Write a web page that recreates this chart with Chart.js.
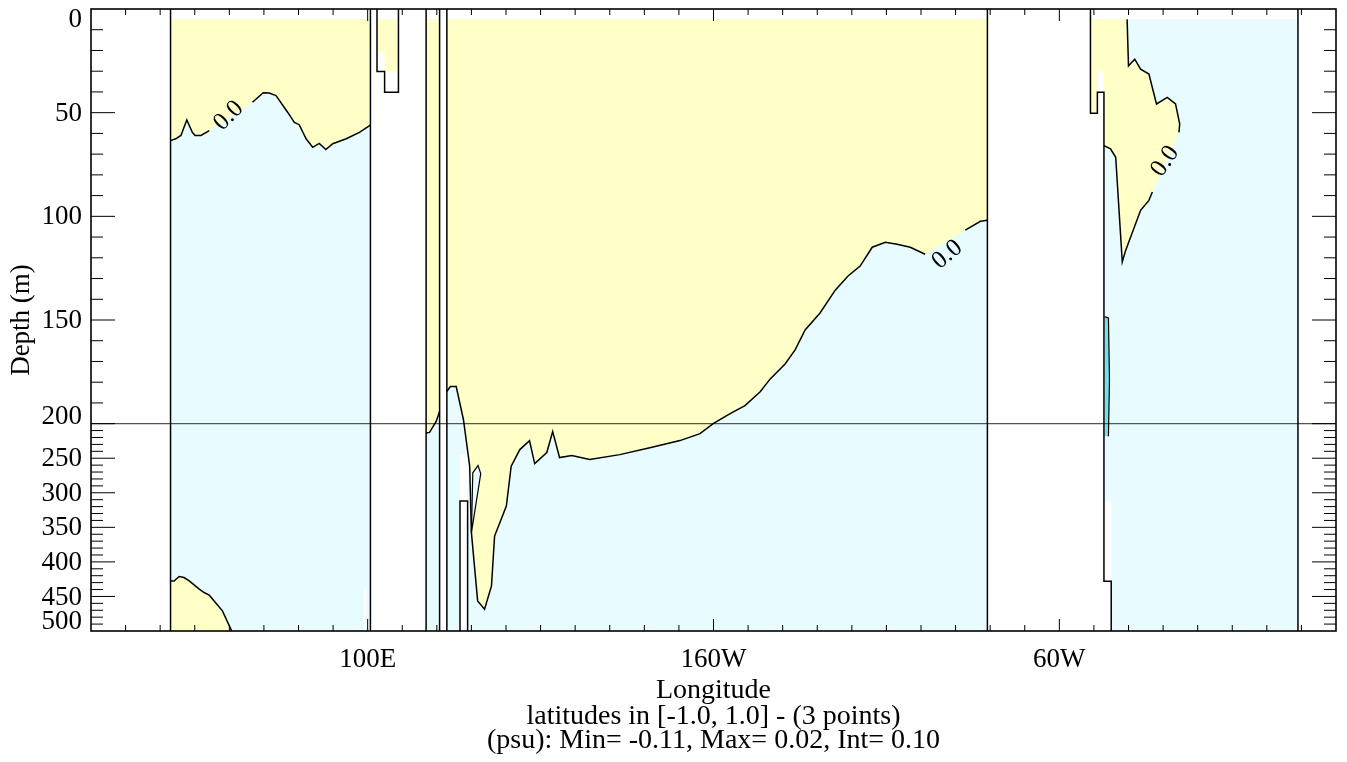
<!DOCTYPE html>
<html>
<head>
<meta charset="utf-8">
<script src="https://cdn.jsdelivr.net/npm/chart.js@4/dist/chart.umd.min.js"></script>
<style>
  html, body { margin: 0; padding: 0; background: #fff; }
  canvas { display: block; }
</style>
</head>
<body>
<canvas id="section" width="1347" height="762"></canvas>
<script>
// axis ticks
const lonTicks = [100, 200, 300];
const lonTickLabels = ["100E", "160W", "60W"];
const depthTicks = [0, 50, 100, 150, 200, 250, 300, 350, 400, 450, 500];

// land edges that run the whole depth
const coastLons = [43.0, 100.8, 116.9, 120.8, 122.9, 279.2, 369.0];
// ocean columns (cyan background), west / east edge
const oceanWest = [43.0, 116.9, 122.9, 312.9];
const oceanEast = [100.8, 120.8, 279.2, 369.0];
const topDepth = 5;

// 0.0 isoline, Indian Ocean near surface
const indianLon = [43.0, 44.5, 46.0, 47.7, 49.3, 50.1, 51.8, 54.2, 66.7, 69.8, 71.5, 73.5, 76.9, 78.8, 80.2, 82.2, 84.1, 86.0, 87.9, 89.9, 93.8, 97.6, 100.8];
const indianDepth = [63.5, 62.6, 61.0, 53.5, 59.5, 61.0, 61.0, 58.7, 45.0, 40.4, 40.5, 41.8, 49.9, 54.7, 55.8, 62.6, 66.7, 64.8, 67.8, 65.0, 62.6, 59.5, 56.0];
// 0.0 isoline, deep Indian Ocean patch
const indianDeepLon = [43.0, 44.0, 45.5, 46.9, 48.4, 51.3, 52.7, 54.2, 58.0, 60.7];
const indianDeepDepth = [427.6, 427.6, 421.2, 422.7, 427.6, 439.5, 444.3, 448.2, 470.9, 500];
// 0.0 isoline, narrow strait column
const straitLon = [116.9, 117.9, 119.8, 120.8];
const straitDepth = [213.4, 212.6, 198.9, 194.1];
// 0.0 isoline, Pacific
const pacificLon = [122.9, 123.9, 125.6, 127.7, 129.5, 130.0, 131.8, 133.8, 135.8, 136.7, 140.1, 141.5, 144.0, 146.8, 148.3, 151.8, 153.5, 155.5, 159.0, 164.2, 172.9, 181.6, 190.3, 196.1, 199.9, 204.8, 209.1, 213.5, 216.4, 220.7, 223.6, 226.5, 230.8, 235.2, 238.9, 242.4, 245.9, 249.7, 253.1, 256.9, 261.2, 272.8, 277.2, 279.2];
const pacificDepth = [184.5, 182.1, 182.1, 198.1, 261.6, 357.7, 456.4, 468.4, 434.8, 362.6, 319.3, 261.6, 237.5, 224.5, 257.7, 241.8, 211.5, 249.1, 246.2, 252.0, 244.8, 234.7, 224.5, 214.4, 200.0, 195.2, 191.3, 184.6, 178.4, 171.2, 164.4, 154.8, 146.6, 135.6, 128.8, 124.0, 114.9, 112.5, 113.5, 114.9, 118.3, 106.7, 102.4, 101.9];
// negative pocket inside the Pacific tongue
const pocketLon = [130.0, 130.4, 131.9, 132.7];
const pocketDepth = [357.7, 271.1, 260.6, 272.2];
// 0.0 isoline, Atlantic
const atlanticLon = [312.9, 314.8, 316.3, 318.2, 319.2, 323.5, 325.9, 326.9, 334.6, 334.8, 333.6, 331.2, 328.1, 325.9, 323.5, 321.8, 320.0, 319.6];
const atlanticDepth = [65.9, 67.5, 71.5, 122.0, 116.3, 97.1, 92.3, 88.3, 59.5, 55.4, 45.8, 42.6, 45.8, 31.4, 29.0, 24.2, 27.4, 5];
// thin band below -0.1 along the Atlantic coast
const lowBandLon = [313.1, 314.2, 314.5, 314.2, 313.1];
const lowBandDepth = [148.4, 149.0, 178.8, 218.3, 218.3];

// stepped land edges
const islandLon = [102.7, 102.7, 104.9, 104.9, 108.9, 108.9];
const islandDepth = [0, 30.1, 30.1, 40.2, 40.2, 0];
const ridgeLon = [126.7, 126.7, 128.9, 128.9];
const ridgeDepth = [500, 312, 312, 500];
const americaLon = [309.0, 309.0, 311.0, 311.0, 312.9, 312.9, 315.0, 315.0];
const americaDepth = [0, 50.3, 50.3, 40.2, 40.2, 428, 428, 500];
// small land cells: lon0, lon1, depth0, depth1
const landCells = [
  [98.8, 99.6, 436.6, 500],
  [126.7, 128.9, 244.7, 500],
  [312.9, 315.0, 312.9, 500],
  [311.1, 312.8, 30.1, 39.4],
  [102.7, 104.9, 20.2, 30.1]
];

// contour labels: lon, depth, angle
const contourLabels = [
  [59.8, 51.5, -45],
  [267.6, 118.5, -40],
  [330.6, 73.5, -55]
];

const YELLOW = "rgb(255,255,200)";
const CYAN = "rgb(232,252,255)";
const DEEP_CYAN = "rgb(110,228,238)";

// depth axis: 0-200 m linear, 200-500 m squeezed 3x
const BREAK = 200, SQUEEZE = 3;
const stretch = (d) => (d <= BREAK ? d : BREAK + (d - BREAK) / SQUEEZE);
const unstretch = (s) => (s <= BREAK ? s : BREAK + (s - BREAK) * SQUEEZE);

class DepthScale extends Chart.LinearScale {
  static id = "depth";
  static defaults = Chart.LinearScale.defaults;
  getPixelForValue(v) { return super.getPixelForValue(stretch(v)); }
  getValueForPixel(p) { return unstretch(super.getValueForPixel(p)); }
}
Chart.register(DepthScale);

const pts = (lons, depths) => lons.map((lon, i) => ({ x: lon, y: depths[i] }));

function area(points, color, order) {
  return { data: points, showLine: true, fill: "shape", backgroundColor: color,
           borderColor: "rgba(0,0,0,0)", borderWidth: 0, order };
}
function line(points, width, color) {
  return { data: points, showLine: true, fill: false, borderColor: color,
           borderWidth: width, order: 0 };
}
function rect(l0, l1, d0, d1) {
  return [{ x: l0, y: d0 }, { x: l1, y: d0 }, { x: l1, y: d1 }, { x: l0, y: d1 }];
}

const datasets = [];

// cyan ocean columns
oceanWest.forEach((w, i) => datasets.push(area(rect(w, oceanEast[i], topDepth, 500), CYAN, 5)));

// yellow (above 0.0) regions
const indian = pts(indianLon, indianDepth);
datasets.push(area([{ x: 43.0, y: topDepth }, ...indian, { x: 100.8, y: topDepth }], YELLOW, 4));
const indianDeep = pts(indianDeepLon, indianDeepDepth);
datasets.push(area([...indianDeep, { x: 43.0, y: 500 }], YELLOW, 4));
const strait = pts(straitLon, straitDepth);
datasets.push(area([{ x: 116.9, y: topDepth }, ...strait, { x: 120.8, y: topDepth }], YELLOW, 4));
const pacific = pts(pacificLon, pacificDepth);
datasets.push(area([{ x: 122.9, y: topDepth }, ...pacific, { x: 279.2, y: topDepth }], YELLOW, 4));
datasets.push(area(rect(102.7, 108.9, topDepth, 30.1), YELLOW, 4));
const atlantic = pts(atlanticLon, atlanticDepth);
datasets.push(area([{ x: 309.0, y: topDepth }, ...pts(americaLon.slice(1, 5), americaDepth.slice(1, 5)), ...atlantic], YELLOW, 4));

// pockets
const pocket = pts(pocketLon, pocketDepth);
datasets.push(area(pocket, CYAN, 3));
const lowBand = pts(lowBandLon, lowBandDepth);
datasets.push(area(lowBand, DEEP_CYAN, 3));

// land cells
landCells.forEach(c => datasets.push(area(rect(c[0], c[1], c[2], c[3]), "#fff", 2)));

// contour lines (gap where the label sits)
const gapAfter = (p, k) => [p.slice(0, k + 1), p.slice(k + 1)];
gapAfter(indian, 7).forEach(p => datasets.push(line(p, 1.5, "#000")));
gapAfter(pacific, 40).forEach(p => datasets.push(line(p, 1.5, "#000")));
gapAfter(atlantic, 7).forEach(p => datasets.push(line(p, 1.5, "#000")));
datasets.push(line(indianDeep, 1.5, "#000"));
datasets.push(line(strait, 1.5, "#000"));
datasets.push(line([...pocket, pocket[0]], 1.2, "#000"));
datasets.push(line(lowBand.slice(0, 4), 1.2, "#000"));

// coast edges
coastLons.forEach(lon => datasets.push(line([{ x: lon, y: 0 }, { x: lon, y: 500 }], 1.5, "#000")));
datasets.push(line(pts(islandLon, islandDepth), 1.5, "#000"));
datasets.push(line(pts(ridgeLon, ridgeDepth), 1.5, "#000"));
datasets.push(line(pts(americaLon, americaDepth), 1.5, "#000"));

// 200 m break line
datasets.push(line([{ x: 20, y: BREAK }, { x: 380, y: BREAK }], 1.2, "#555"));

const SERIF = '"Liberation Serif", "Times New Roman", serif';

const framePlugin = {
  id: "frame",
  afterDatasetsDraw(chart) {
    const { ctx, chartArea: a, scales: { x, y } } = chart;
    ctx.save();
    ctx.strokeStyle = "#000";
    ctx.lineWidth = 1;
    ctx.beginPath();
    for (let lon = 30; lon < 380; lon += 10) {
      const px = x.getPixelForValue(lon);
      const len = lonTicks.includes(lon) ? 12 : 6;
      ctx.moveTo(px, a.bottom); ctx.lineTo(px, a.bottom - len);
      ctx.moveTo(px, a.top); ctx.lineTo(px, a.top + len);
    }
    for (let d = 10; d < 500; d += 10) {
      const py = y.getPixelForValue(d);
      const len = d % 50 === 0 ? 24 : 12;
      ctx.moveTo(a.left, py); ctx.lineTo(a.left + len, py);
      ctx.moveTo(a.right, py); ctx.lineTo(a.right - len, py);
    }
    ctx.stroke();
    ctx.lineWidth = 1.6;
    ctx.strokeRect(a.left, a.top, a.right - a.left, a.bottom - a.top);

    ctx.fillStyle = "#000";
    ctx.font = "27px " + SERIF;
    ctx.textAlign = "center";
    ctx.textBaseline = "alphabetic";
    lonTicks.forEach((lon, i) => ctx.fillText(lonTickLabels[i], x.getPixelForValue(lon), 667));

    ctx.textAlign = "right";
    ctx.textBaseline = "middle";
    depthTicks.forEach(d => {
      let py = y.getPixelForValue(d);
      if (d === BREAK) py -= 8;
      py = Math.min(Math.max(py, a.top + 10), a.bottom - 10);
      ctx.fillText(String(d), 82, py + 1);
    });

    ctx.font = "28px " + SERIF;
    ctx.textAlign = "center";
    ctx.textBaseline = "alphabetic";
    const cx = (a.left + a.right) / 2;
    ctx.fillText("Longitude", cx, 698);
    ctx.fillText("latitudes in [-1.0, 1.0] - (3 points)", cx, 724);
    ctx.fillText("(psu): Min= -0.11, Max= 0.02, Int= 0.10", cx, 748);

    ctx.font = "27px " + SERIF;
    ctx.save();
    ctx.translate(22, (a.top + a.bottom) / 2);
    ctx.rotate(-Math.PI / 2);
    ctx.textBaseline = "middle";
    ctx.fillText("Depth (m)", 0, 0);
    ctx.restore();

    ctx.font = "25px " + SERIF;
    ctx.textBaseline = "middle";
    contourLabels.forEach(([lon, d, ang]) => {
      ctx.save();
      ctx.translate(x.getPixelForValue(lon), y.getPixelForValue(d));
      ctx.rotate(ang * Math.PI / 180);
      ctx.fillText("0.0", 0, 0);
      ctx.restore();
    });
    ctx.restore();
  }
};

new Chart(document.getElementById("section"), {
  type: "scatter",
  data: { datasets },
  options: {
    responsive: false,
    animation: false,
    layout: { padding: { left: 91, top: 9, right: 11, bottom: 131 } },
    elements: { point: { radius: 0, hoverRadius: 0 }, line: { tension: 0 } },
    plugins: { legend: { display: false }, tooltip: { enabled: false } },
    scales: {
      x: { type: "linear", min: 20, max: 380, display: false },
      y: { type: "depth", min: 0, max: stretch(500), reverse: true, display: false }
    }
  },
  plugins: [framePlugin]
});
</script>
</body>
</html>
